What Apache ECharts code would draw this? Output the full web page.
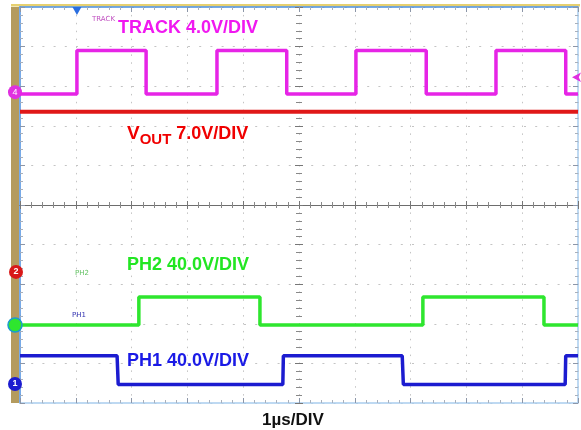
<!DOCTYPE html>
<html>
<head>
<meta charset="utf-8">
<style>
  html, body { margin: 0; padding: 0; background: #fff; }
  #scope { width: 581px; height: 430px; }
</style>
<script src="https://cdn.jsdelivr.net/npm/echarts@6/dist/echarts.min.js"></script>
</head>
<body>
<div id="scope"></div>
<script>
    // time in µs (1µs/DIV), levels in volts per channel
    const trackT = [0, 1.02, 1.02, 2.26, 2.26, 3.53, 3.53, 4.78, 4.78, 6.02, 6.02, 7.28, 7.28, 8.53, 8.53, 9.78, 9.78, 10]
    const trackV = [-0.2, -0.2, 4.2, 4.2, -0.2, -0.2, 4.2, 4.2, -0.2, -0.2, 4.2, 4.2, -0.2, -0.2, 4.2, 4.2, -0.2, -0.2]
    const voutT = [0, 10]
    const voutV = [28.3, 28.3]
    const ph2T = [0, 2.13, 2.13, 4.30, 4.30, 7.22, 7.22, 9.39, 9.39, 10]
    const ph2V = [0, 0, 28.3, 28.3, 0, 0, 28.3, 28.3, 0, 0]
    const ph1T = [0, 1.74, 1.76, 4.71, 4.72, 6.85, 6.87, 9.77, 9.78, 10]
    const ph1V = [28.5, 28.5, -0.5, -0.5, 28.5, 28.5, -0.5, -0.5, 28.5, 28.5]

    // volts per division and ground marker position (divisions from bottom)
    const voltsPerDiv = { track: 4, vout: 7, ph2: 40, ph1: 40 }
    const groundDiv = { track: 7.85, vout: 3.31, ph2: 1.97, ph1: 0.48 }
    const triggerTime = 1.02
    const triggerLevel = 1.5

    const toDiv = (ch, t, v) => t.map((x, i) => [x, groundDiv[ch] + v[i] / voltsPerDiv[ch]])

    let Echarts = echarts.init(document.getElementById('scope'))

    const edgeAxis = (pos, grid, color) => ({
        gridIndex: grid,
        type: 'value',
        position: pos,
        min: 0,
        max: 10,
        interval: 1,
        axisLine: { show: true, onZero: false, lineStyle: { color: color, width: 1.5 } },
        axisTick: { show: true, inside: true, length: 5, lineStyle: { color: '#8c96a8' } },
        minorTick: { show: true, splitNumber: 5, length: 3, lineStyle: { color: '#a8b0bc' } },
        axisLabel: { show: false },
        splitLine: { show: false }
    })

    const centerAxis = (pos, grid, lineColor) => ({
        gridIndex: grid,
        type: 'value',
        position: pos,
        min: -5,
        max: 5,
        interval: 1,
        axisLine: { show: true, onZero: true, lineStyle: { color: lineColor, width: 1 } },
        axisTick: { show: true, inside: true, length: 4, lineStyle: { color: '#777' } },
        minorTick: { show: true, splitNumber: 5, length: 3, lineStyle: { color: '#888' } },
        axisLabel: { show: false },
        splitLine: { show: false }
    })

    const gridBox = { left: 20, right: 3, top: 7, bottom: 27 }

    const bottomX = edgeAxis('bottom', 0, '#a9cdee')
    bottomX.splitLine = { show: true, lineStyle: { color: '#c4c4c4', type: [1.5, 6.4], width: 1 } }
    const leftY = edgeAxis('left', 0, '#4a8ee0')
    leftY.splitLine = { show: true, lineStyle: { color: '#c4c4c4', type: [2, 9.2], width: 1 } }

    const labelFont = 'bold 18px "Liberation Sans", Arial, sans-serif'

    const option = {
        animation: false,
        backgroundColor: '#fff',
        grid: [
            Object.assign({}, gridBox),
            Object.assign({}, gridBox),
            Object.assign({}, gridBox)
        ],
        xAxis: [
            bottomX,
            edgeAxis('top', 0, '#4a8ee0'),
            centerAxis('bottom', 1, '#6d6d6d'),
            centerAxis('top', 2, '#6d6d6d')
        ],
        yAxis: [
            leftY,
            edgeAxis('right', 0, '#a9cdee'),
            centerAxis('left', 1, 'rgba(0,0,0,0)'),
            centerAxis('right', 2, 'rgba(0,0,0,0)')
        ],
        graphic: [
            // probe bar on the left and top frame
            { type: 'rect', shape: { x: 11, y: 7, width: 8, height: 396 }, style: { fill: '#b49b5e' }, z: 0 },
            { type: 'rect', shape: { x: 11, y: 4, width: 569, height: 2.5 }, style: { fill: '#e6d070' }, z: 0 },
            // channel captions
            { type: 'text', left: 118, top: 19, style: { text: 'TRACK 4.0V/DIV', fill: '#f018f0', font: labelFont }, z: 10 },
            {
                type: 'text', left: 127, top: 124, z: 10,
                style: {
                    text: '{v|V}{s|OUT}{n| 7.0V/DIV}',
                    rich: {
                        v: { fill: '#f00000', font: 'bold 19px "Liberation Sans", Arial, sans-serif', lineHeight: 22, verticalAlign: 'top' },
                        s: { fill: '#f00000', font: 'bold 15px "Liberation Sans", Arial, sans-serif', lineHeight: 22, padding: [8, 0, 0, 0], verticalAlign: 'top' },
                        n: { fill: '#f00000', font: labelFont, lineHeight: 22, padding: [1, 0, 0, 0], verticalAlign: 'top' }
                    }
                }
            },
            { type: 'text', left: 127, top: 256, style: { text: 'PH2 40.0V/DIV', fill: '#22e622', font: labelFont }, z: 10 },
            { type: 'text', left: 127, top: 352, style: { text: 'PH1 40.0V/DIV', fill: '#1a1ae6', font: labelFont }, z: 10 },
            { type: 'text', left: 262, top: 412, style: { text: '1µs/DIV', fill: '#111', font: 'bold 17px "Liberation Sans", Arial, sans-serif' }, z: 10 },
            // small scope trace tags
            { type: 'text', left: 92, top: 16, style: { text: 'TRACK', fill: '#c050c0', font: '7px "DejaVu Sans", sans-serif' }, z: 10 },
            { type: 'text', left: 75, top: 270, style: { text: 'PH2', fill: '#60c060', font: '7px "DejaVu Sans", sans-serif' }, z: 10 },
            { type: 'text', left: 72, top: 312, style: { text: 'PH1', fill: '#3030b0', font: '7px "DejaVu Sans", sans-serif' }, z: 10 }
        ],
        series: [
            {
                name: 'TRACK',
                type: 'line',
                data: toDiv('track', trackT, trackV),
                showSymbol: false,
                lineStyle: { color: '#e624e6', width: 3.5 },
                z: 5,
                markPoint: {
                    silent: true,
                    data: [
                        { coord: [0, groundDiv.track], symbol: 'circle', symbolSize: 14, symbolOffset: [-5, 0], itemStyle: { color: '#e030e0' }, label: { show: true, formatter: '4', color: '#fff', fontSize: 9 } },
                        { coord: [triggerTime, 10], symbol: 'triangle', symbolSize: [9, 8], symbolRotate: 180, symbolOffset: [0, 4], itemStyle: { color: '#2a6ee0' }, label: { show: false } },
                        { coord: [10, groundDiv.track + triggerLevel / voltsPerDiv.track], symbol: 'arrow', symbolSize: [7, 9], symbolRotate: 90, symbolOffset: [-6, 0], itemStyle: { color: '#e030e0' }, label: { show: false } }
                    ]
                }
            },
            {
                name: 'VOUT',
                type: 'line',
                data: toDiv('vout', voutT, voutV),
                showSymbol: false,
                lineStyle: { color: '#e01818', width: 4 },
                z: 4,
                markPoint: {
                    silent: true,
                    data: [
                        { coord: [0, groundDiv.vout], symbol: 'circle', symbolSize: 14, symbolOffset: [-4, 0], itemStyle: { color: '#d81818' }, label: { show: true, formatter: '2', color: '#fff', fontSize: 9, fontWeight: 'bold' } }
                    ]
                }
            },
            {
                name: 'PH2',
                type: 'line',
                data: toDiv('ph2', ph2T, ph2V),
                showSymbol: false,
                lineStyle: { color: '#2ee62e', width: 3.5 },
                z: 4,
                markPoint: {
                    silent: true,
                    data: [
                        { coord: [0, groundDiv.ph2], symbol: 'circle', symbolSize: 14, symbolOffset: [-5, 0], itemStyle: { color: '#2ee62e', borderColor: '#1a9ad0', borderWidth: 1.5 }, label: { show: false } }
                    ]
                }
            },
            {
                name: 'PH1',
                type: 'line',
                data: toDiv('ph1', ph1T, ph1V),
                showSymbol: false,
                lineStyle: { color: '#1c1cd0', width: 3.5 },
                z: 4,
                markPoint: {
                    silent: true,
                    data: [
                        { coord: [0, groundDiv.ph1], symbol: 'circle', symbolSize: 14, symbolOffset: [-5, 0], itemStyle: { color: '#1c1cd0' }, label: { show: true, formatter: '1', color: '#fff', fontSize: 9, fontWeight: 'bold' } }
                    ]
                }
            }
        ]
    }

    // 绘制图表
    Echarts.setOption(option)
    window.onresize = () => {
        Echarts.resize()
    }
</script>
</body>
</html>
